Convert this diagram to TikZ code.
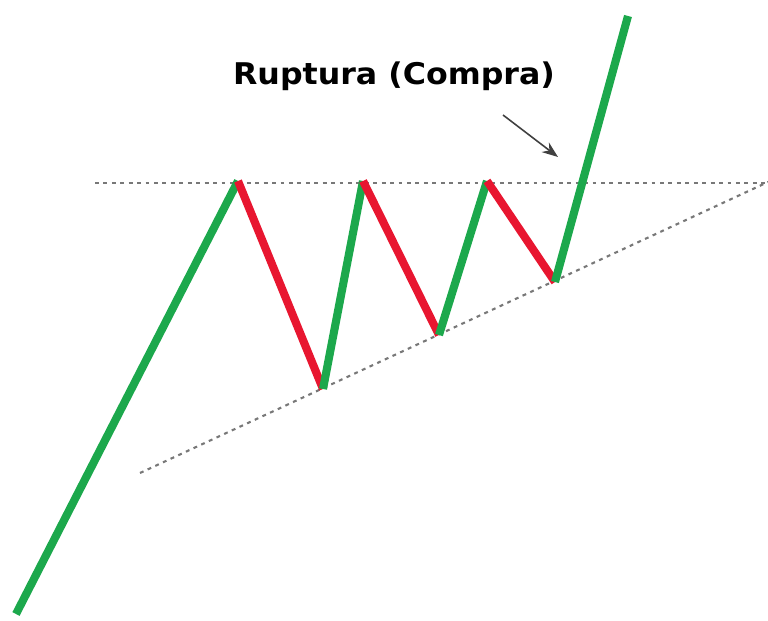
\documentclass[tikz,border=0pt]{standalone}
\usepackage{fontspec}
\setmainfont{DejaVu Sans}
\usetikzlibrary{arrows.meta}
\definecolor{upgreen}{RGB}{28,168,76}
\definecolor{downred}{RGB}{232,22,48}
\definecolor{guide}{RGB}{120,120,120}

\begin{document}
\begin{tikzpicture}[x=0.02cm,y=-0.02cm,>={Stealth[length=3.2mm,width=2.4mm]},
  up/.style={upgreen,line width=4.6pt},
  down/.style={downred,line width=4.6pt},
  level/.style={guide,line width=1.2pt,dash pattern=on 2.2pt off 2.6pt}]
\useasboundingbox (0,0) rectangle (768,621);
% turning points of the price
\coordinate (s) at (16,614);
\coordinate (p1) at (238,181);
\coordinate (t1) at (323,389);
\coordinate (p2) at (363,181);
\coordinate (t2) at (439,335);
\coordinate (p3) at (487,181);
\coordinate (t3) at (555,282);
\coordinate (e) at (628,16);
% resistance and rising support
\draw[level] (95,183) -- (768,183);
\draw[level] (140,473) -- (768,182);
\draw[up] (s) -- (p1);
\draw[down] (p1) -- (t1);
\draw[up] (t1) -- (p2);
\draw[down] (p2) -- (t2);
\draw[up] (t2) -- (p3);
\draw[down] (p3) -- (t3);
\draw[up] (t3) -- (e);
\node[anchor=base,inner sep=0pt,xscale=1.06,font=\fontsize{17}{20}\selectfont\bfseries] (brk) at (394,85) {Ruptura (Compra)};
\coordinate (a0) at (503,115);
\coordinate (a1) at (558,157);
\draw[->,black!75,line width=0.9pt] (a0) -- (a1);
\end{tikzpicture}
\end{document}
